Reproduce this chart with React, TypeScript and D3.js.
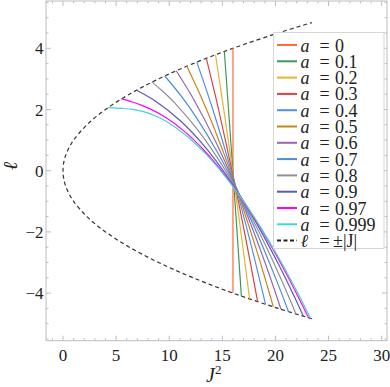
import React from "react";
import * as d3 from "d3";

// spin values and their colours (legend order)
const spinLabels = ["0", "0.1", "0.2", "0.3", "0.4", "0.5", "0.6", "0.7", "0.8", "0.9", "0.97", "0.999"];
const spinColors = [
  "#ff6a3d", "#3a9a5c", "#e3b532", "#d64545", "#4f8ff5", "#c8861a",
  "#9865b5", "#4a8ed6", "#8f8f8f", "#5a5ab0", "#ff00ff", "#45d6cc",
];

// [J^2, l] points, one array per spin
const curve0 = [[16, 4], [16, -4]];
const curve01 = [[15.19, 3.897], [16.01, -0.1], [16.79, -4.098]];
const curve02 = [[14.355, 3.789], [15.234, 1.765], [16.04, -0.2], [16.827, -2.216], [17.564, -4.191]];
const curve03 = [[13.493, 3.673], [14.465, 2.27], [16.09, -0.3], [17.258, -2.318], [18.321, -4.28]];
const curve04 = [[12.597, 3.549], [14.134, 1.969], [16.16, -0.4], [17.698, -2.417], [19.066, -4.366]];
const curve05 = [[11.657, 3.414], [12.973, 2.431], [14.253, 1.368], [16.25, -0.5], [18.146, -2.512], [19.07, -3.574], [19.798, -4.449]];
const curve06 = [[10.66, 3.265], [12.27, 2.35], [14.398, 0.93], [16.36, -0.6], [18.234, -2.257], [19.33, -3.313], [20.519, -4.53]];
const curve07 = [[9.582, 3.095], [11.153, 2.428], [12.512, 1.761], [14.569, 0.584], [16.49, -0.7], [18.337, -2.1], [20.138, -3.617], [21.231, -4.608]];
const curve08 = [[8.378, 2.894], [9.31, 2.619], [10.596, 2.185], [12.792, 1.285], [14.767, 0.295], [16.64, -0.8], [18.456, -2.005], [20.237, -3.316], [21.117, -4.012], [21.933, -4.683]];
const curve09 = [[6.93, 2.632], [8.721, 2.272], [11.1, 1.617], [13.11, 0.884], [14.991, 0.046], [16.81, -0.9], [18.592, -1.95], [20.348, -3.101], [21.739, -4.09], [22.627, -4.757]];
const curve097 = [[5.506, 2.346], [6.341, 2.266], [7.488, 2.128], [9.484, 1.782], [11.487, 1.268], [13.354, 0.636], [15.164, -0.113], [16.941, -0.97], [18.695, -1.93], [20.433, -2.986], [22.158, -4.134], [23.109, -4.807]];
const curve0999 = [[4.257, 2.063], [5.558, 2.038], [6.575, 2.006], [7.507, 1.94], [8.686, 1.796], [9.817, 1.592], [11.656, 1.133], [13.46, 0.539], [15.239, -0.175], [16.998, -0.999], [18.741, -1.925], [20.471, -2.945], [22.189, -4.056], [22.873, -4.525], [23.31, -4.828]];

const curves = [curve0, curve01, curve02, curve03, curve04, curve05, curve06, curve07, curve08, curve09, curve097, curve0999];

// boundary l = ±|J|
const boundaryL = [-4.84, -4.5, -4, -3.5, -3, -2.5, -2, -1.5, -1, -0.75, -0.5, -0.25, 0, 0.25, 0.5, 0.75, 1, 1.5, 2, 2.5, 3, 3.5, 4, 4.5, 4.84];
const boundaryJ2 = [23.43, 20.25, 16, 12.25, 9, 6.25, 4, 2.25, 1, 0.5625, 0.25, 0.0625, 0, 0.0625, 0.25, 0.5625, 1, 2.25, 4, 6.25, 9, 12.25, 16, 20.25, 23.43];

const xTicks = [0, 5, 10, 15, 20, 25, 30];
const yTicks = [-4, -2, 0, 2, 4];

const W = 390;
const H = 387;
const L = 46, R = 387, T = 1, B = 340.7;
const FONT = '"Liberation Serif", "DejaVu Serif", "Times New Roman", Times, serif';
const FRAME = "#bdbdbd";
const INK = "#222";

export default function App() {
  const x = d3.scaleLinear().domain([-1.6, 30.5]).range([L, R]);
  const y = d3.scaleLinear().domain([-5.556, 5.546]).range([B, T]);

  const line = d3
    .line<number[]>()
    .x((d) => x(d[0]))
    .y((d) => y(d[1]))
    .curve(d3.curveCatmullRom.alpha(0.5));

  const boundary = boundaryL.map((l, i) => [boundaryJ2[i], l]);

  const xMinor = d3.range(-1, 31, 1).filter((v) => v % 5 !== 0);
  const yMinor = d3.range(-5.5, 5.51, 0.5).filter((v) => Math.abs(v % 2) > 1e-9);

  const legendY0 = 45;
  const legendDy = 16.3;
  const txt = { fontFamily: FONT, fill: INK } as React.CSSProperties;

  return (
    <svg width={W} height={H} style={{ position: "absolute", left: 0, top: 0, background: "#fff", fontFamily: FONT }}>
      <defs>
        <clipPath id="plot">
          <rect x={L} y={T} width={R - L} height={B - T} />
        </clipPath>
      </defs>

      {/* frame */}
      <rect x={L} y={T} width={R - L} height={B - T} fill="none" stroke={FRAME} strokeWidth={1} />
      {xTicks.map((t) => (
        <g key={"xt" + t}>
          <line x1={x(t)} x2={x(t)} y1={B} y2={B - 5} stroke={FRAME} />
          <line x1={x(t)} x2={x(t)} y1={T} y2={T + 5} stroke={FRAME} />
        </g>
      ))}
      {xMinor.map((t) => (
        <g key={"xm" + t}>
          <line x1={x(t)} x2={x(t)} y1={B} y2={B - 2.5} stroke={FRAME} />
          <line x1={x(t)} x2={x(t)} y1={T} y2={T + 2.5} stroke={FRAME} />
        </g>
      ))}
      {yTicks.map((t) => (
        <g key={"yt" + t}>
          <line x1={L} x2={L + 5} y1={y(t)} y2={y(t)} stroke={FRAME} />
          <line x1={R} x2={R - 5} y1={y(t)} y2={y(t)} stroke={FRAME} />
        </g>
      ))}
      {yMinor.map((t) => (
        <g key={"ym" + t}>
          <line x1={L} x2={L + 2.5} y1={y(t)} y2={y(t)} stroke={FRAME} />
          <line x1={R} x2={R - 2.5} y1={y(t)} y2={y(t)} stroke={FRAME} />
        </g>
      ))}

      {/* tick labels */}
      {xTicks.map((t) => (
        <text key={"xl" + t} x={x(t)} y={360.5} style={{ ...txt, fontSize: 17 }} textAnchor="middle">
          {t}
        </text>
      ))}
      {yTicks.map((t) => (
        <text key={"yl" + t} x={43.5} y={y(t) + 6} style={{ ...txt, fontSize: 17 }} textAnchor="end">
          {t < 0 ? "\u2212" + Math.abs(t) : t}
        </text>
      ))}

      {/* axis labels */}
      <text x={206} y={382} style={{ ...txt, fontSize: 20, fontStyle: "italic" }}>
        J<tspan dy={-8} style={{ fontSize: 13, fontStyle: "normal" }}>2</tspan>
      </text>
      <text
        x={0}
        y={0}
        transform="translate(17,166) rotate(-90)"
        style={{ ...txt, fontSize: 20, fontStyle: "italic" }}
        textAnchor="middle"
      >
        ℓ
      </text>

      {/* curves */}
      <g clipPath="url(#plot)">
        <path d={line(boundary) ?? ""} fill="none" stroke="#333" strokeWidth={1.2} strokeDasharray="4,3" />
        {curves.map((c, i) => (
          <path key={"c" + i} d={line(c) ?? ""} fill="none" stroke={spinColors[i]} strokeWidth={1.2} />
        ))}
      </g>

      {/* legend */}
      <rect x={273.5} y={32.5} width={110.5} height={216} fill="#fff" stroke="#d6d6d6" strokeWidth={1} />
      {spinLabels.map((s, i) => {
        const ly = legendY0 + i * legendDy;
        return (
          <g key={"lg" + s}>
            <line x1={277} x2={297} y1={ly} y2={ly} stroke={spinColors[i]} strokeWidth={2} />
            <text x={300.5} y={ly + 6.5} style={{ ...txt, fontSize: 18, fontStyle: "italic" }}>
              a
            </text>
            <text x={319.5} y={ly + 6.5} style={{ ...txt, fontSize: 18 }}>
              =
            </text>
            <text x={335} y={ly + 6.5} style={{ ...txt, fontSize: 18 }}>
              {s}
            </text>
          </g>
        );
      })}
      {(() => {
        const ly = legendY0 + spinLabels.length * legendDy;
        return (
          <g>
            <line x1={277} x2={297} y1={ly} y2={ly} stroke={INK} strokeWidth={2} strokeDasharray="4,2.5" />
            <text x={300.5} y={ly + 6.5} style={{ ...txt, fontSize: 18, fontStyle: "italic" }}>
              ℓ
            </text>
            <text x={319.5} y={ly + 6.5} style={{ ...txt, fontSize: 18 }}>
              =
            </text>
            <text x={333} y={ly + 6.5} style={{ ...txt, fontSize: 18 }}>
              ±|J|
            </text>
          </g>
        );
      })()}
    </svg>
  );
}
